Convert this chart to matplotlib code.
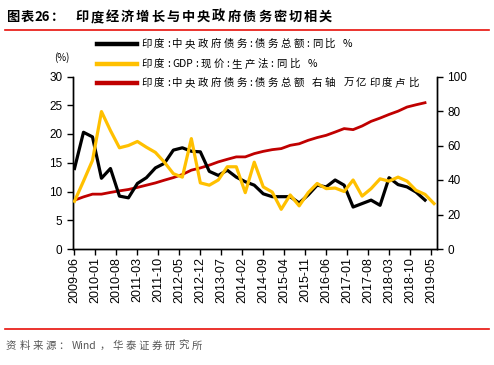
import matplotlib
matplotlib.use("Agg")
import matplotlib.pyplot as plt
from matplotlib.lines import Line2D
import numpy as np
import re

plt.rcParams['font.family'] = ['Liberation Sans', 'Noto Sans CJK SC', 'DejaVu Sans']
CJK = ['Noto Sans CJK SC', 'DejaVu Sans']

# quarterly data, months since 2009-06
debt_yoy = [14.0, 20.3, 19.5, 12.3, 14.0, 9.2, 8.9, 11.4, 12.4, 14.1, 14.9, 17.2,
            17.6, 17.0, 16.9, 13.5, 12.8, 13.7, 12.5, 11.7, 11.1, 9.6, 9.1, 9.1,
            9.1, 8.0, 9.4, 11.1, 10.8, 12.0, 11.1, 7.3, 7.9, 8.5, 7.6, 12.4,
            11.2, 10.8, 9.9, 8.5]
gdp_yoy = [8.3, 11.8, 15.4, 23.9, 20.6, 17.6, 18.0, 18.7, 17.7, 16.8, 15.1, 13.1,
           12.5, 19.2, 11.5, 11.1, 12.0, 14.3, 14.3, 9.8, 15.1, 10.8, 9.9, 6.9,
           9.4, 7.5, 9.8, 11.4, 10.5, 10.6, 10.0, 12.0, 9.2, 10.5, 12.2, 11.8,
           12.5, 11.8, 10.2, 9.5, 7.9]
debt_total = [28.3, 30.2, 31.8, 31.8, 32.8, 33.7, 34.5, 35.7, 37.0, 38.3, 39.9, 41.4,
              43.2, 45.7, 47.0, 48.6, 50.5, 52.0, 53.4, 53.4, 55.3, 56.6, 57.6, 58.2,
              60.1, 61.0, 63.0, 64.6, 65.9, 67.8, 69.8, 69.2, 71.3, 74.0, 75.9, 78.0,
              79.9, 82.3, 83.6, 84.8]
tick_labels = ['2009-06', '2010-01', '2010-08', '2011-03', '2011-10', '2012-05',
               '2012-12', '2013-07', '2014-02', '2014-09', '2015-04', '2015-11',
               '2016-06', '2017-01', '2017-08', '2018-03', '2018-10', '2019-05']
labels = ['印度:中央政府债务:债务总额:同比 %', '印度:GDP:现价:生产法:同比 %',
          '印度:中央政府债务:债务总额 右轴 万亿印度卢比']

x_debt = np.arange(len(debt_yoy)) * 3
x_gdp = np.arange(len(gdp_yoy)) * 3
x_tot = np.arange(len(debt_total)) * 3
x_ticks = np.arange(len(tick_labels)) * 7

W, H = 494, 365
fig = plt.figure(figsize=(W / 100, H / 100), dpi=100)
renderer = fig.canvas.get_renderer()


def spaced_text(x_px, y_px, s, size, spacing, **kw):
    """Place text piece by piece with extra letter spacing (pixels) between CJK glyphs;
    runs of Latin letters/digits are kept together."""
    x = x_px
    for tok in re.findall(r'[A-Za-z0-9%]+| |.', s):
        if tok == ' ':
            x += size * 100 / 72 * 0.3 + spacing
            continue
        t = fig.text(x / W, 1 - y_px / H, tok, fontsize=size, va='center', ha='left', **kw)
        bb = t.get_window_extent(renderer)
        x += bb.width + spacing
    return x


ax = fig.add_axes([73 / W, 1 - 249 / H, (437 - 73) / W, (249 - 76.5) / H])
ax2 = ax.twinx()

YEL = '#FFC000'
RED = '#C00000'
ax.plot(x_debt, debt_yoy, color='black', lw=2.3, zorder=3)
ax.plot(x_gdp, gdp_yoy, color=YEL, lw=2.3, zorder=4)
ax2.plot(x_tot, debt_total, color=RED, lw=2.0)
ax.set_zorder(ax2.get_zorder() + 1)
ax.patch.set_visible(False)

ax.set_xlim(-0.5, 121)
ax.set_ylim(0, 30)
ax2.set_ylim(0, 100)
ax.set_yticks(np.arange(0, 31, 5))
ax2.set_yticks(np.arange(0, 101, 20))
ax.set_xticks(x_ticks)
ax.set_xticklabels(tick_labels, rotation=90, fontsize=9)
ax.tick_params(axis='y', labelsize=8.5, direction='out', length=4, width=1)
ax2.tick_params(axis='y', labelsize=8.5, direction='out', length=4, width=1)
ax.tick_params(axis='x', direction='out', length=4, width=1, pad=2)
for a in (ax, ax2):
    a.spines['top'].set_visible(False)
    for s in a.spines.values():
        s.set_linewidth(1)

fig.text(62 / W, 1 - 58 / H, '(%)', fontsize=7, ha='center', va='center', family=CJK)

# legend drawn manually
ys = [44, 64, 83]
for y, c, lab in zip(ys, ['black', YEL, RED], labels):
    fig.add_artist(Line2D([97 / W, 137 / W], [1 - y / H, 1 - y / H], color=c, lw=3.2,
                          transform=fig.transFigure))
    spaced_text(141, y, lab, 7.5, 2.5, family=CJK)

# title and decorations
spaced_text(6, 17, '图表26：', 9.5, 1.0, family=CJK, fontweight='bold')
spaced_text(75, 17, '印度经济增长与中央政府债务密切相关', 9.5, 2.0, family=CJK, fontweight='bold')
fig.add_artist(Line2D([5 / W, 489 / W], [1 - 30 / H, 1 - 30 / H], color='#E8100A', lw=1.2,
                      transform=fig.transFigure))
fig.add_artist(Line2D([5 / W, 489 / W], [1 - 329 / H, 1 - 329 / H], color='#E8100A', lw=1.2,
                      transform=fig.transFigure))
spaced_text(6, 346, '资料来源：Wind，华泰证券研究所', 7.5, 2.8, family=CJK, color='#555555')

fig.savefig('out.png', dpi=100)
